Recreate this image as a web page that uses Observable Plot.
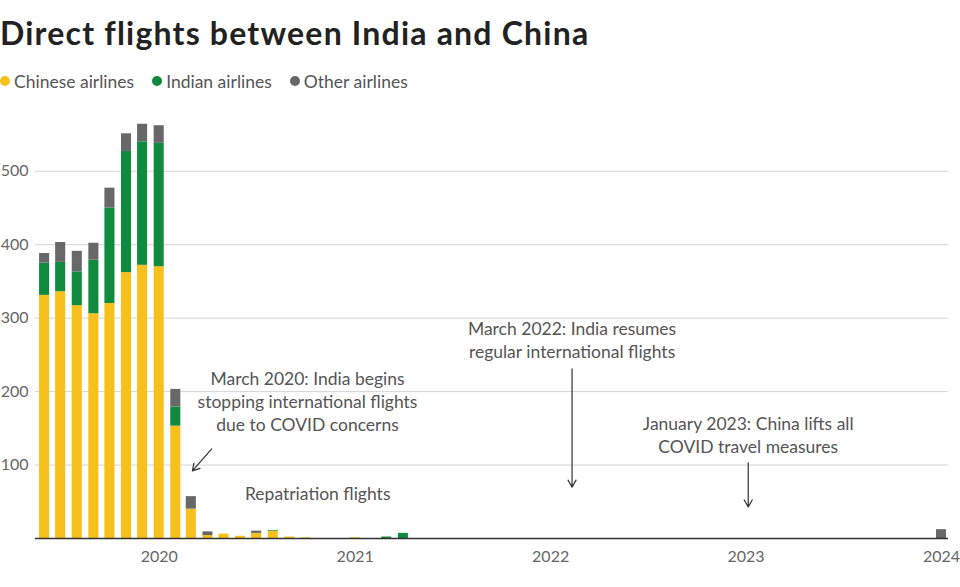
<!DOCTYPE html>
<html>
<head>
<meta charset="utf-8">
<script src="https://cdn.jsdelivr.net/npm/d3@7"></script>
<script src="https://cdn.jsdelivr.net/npm/@observablehq/plot@0.6"></script>
<style>
  body { margin: 0; background: #fff; font-family: Lato, "Noto Sans", sans-serif; }
  #wrap { width: 960px; height: 587px; position: relative; overflow: hidden; }
  h1 { margin: 0; padding: 14px 0 0 0; font-size: 32px; font-weight: 700; color: #222; letter-spacing: 1.2px; line-height: 38px; }
  .legend { display: flex; gap: 18px; margin-top: 17px; font-size: 17.5px; color: #555; height: 24px; align-items: center; }
  .legend span { display: inline-flex; align-items: center; }
  .legend i { display: inline-block; width: 10px; height: 10px; border-radius: 50%; margin-right: 4px; }
  #chart { position: absolute; top: 100px; left: 0; }
</style>
</head>
<body>
<div id="wrap">
  <h1>Direct flights between India and China</h1>
  <div class="legend" id="legend"></div>
  <div id="chart"></div>
</div>
<script>
const months = ["2019-06","2019-07","2019-08","2019-09","2019-10","2019-11","2019-12","2020-01","2020-02","2020-03","2020-04","2020-05","2020-06","2020-07","2020-08","2020-09","2020-10","2021-01","2021-03","2021-04","2024-01"];
const chinese = [331,336,317,306,320,362,372,370,153,40,4,6,3,7,10,2,1,1,0,0,0];
const indian  = [44,40,46,73,130,165,168,168,26,0,0,0,0,0,1,0,0,0,2,7,0];
const other   = [13,27,28,23,27,24,24,24,24,17,5,0,0,3,0,0,0,0,0,0,12];
const seriesNames = ["Chinese airlines", "Indian airlines", "Other airlines"];
const seriesColors = ["#F7C01D", "#108A3F", "#686868"];
const yTicks = [100, 200, 300, 400, 500];
const xTickYears = [2020, 2021, 2022, 2023, 2024];

const annotations = [
  {date: "2020-10-04", value: 188, text: "March 2020: India begins\nstopping international flights\ndue to COVID concerns"},
  {date: "2020-10-23", value: 63, text: "Repatriation flights"},
  {date: "2022-02-10", value: 272, text: "March 2022: India resumes\nregular international flights"},
  {date: "2023-01-05", value: 142, text: "January 2023: China lifts all\nCOVID travel measures"}
];
const arrows = [
  {d1: "2020-04-08", v1: 122, d2: "2020-03-03", v2: 92},
  {d1: "2022-02-10", v1: 231, d2: "2022-02-10", v2: 70},
  {d1: "2023-01-05", v1: 103, d2: "2023-01-05", v2: 43}
];

// legend
const legend = document.getElementById("legend");
seriesNames.forEach((n, i) => {
  const s = document.createElement("span");
  s.innerHTML = `<i style="background:${seriesColors[i]}"></i>${n}`;
  legend.appendChild(s);
});

// stacked rows
const parse = d3.utcParse("%Y-%m");
const rows = [];
months.forEach((m, i) => {
  const date = parse(m);
  let base = 0;
  [chinese[i], indian[i], other[i]].forEach((v, k) => {
    if (v > 0) rows.push({date, series: seriesNames[k], y1: base, y2: base + v});
    base += v;
  });
});

const pd = d3.utcParse("%Y-%m-%d");
const ann = annotations.map(a => ({...a, date: pd(a.date)}));
const arr = arrows.map(a => ({...a, d1: pd(a.d1), d2: pd(a.d2)}));

const chart = Plot.plot({
  width: 960,
  height: 487,
  marginLeft: 35,
  marginRight: 12,
  marginTop: 12,
  marginBottom: 49,
  style: {fontFamily: "Lato, 'Noto Sans', sans-serif", background: "transparent"},
  x: {type: "utc", domain: [pd("2019-05-15"), pd("2024-01-14")], ticks: xTickYears.map(y => new Date(Date.UTC(y, 0, 1))), tickFormat: d3.utcFormat("%Y"), tickSize: 0, tickPadding: 12, label: null},
  y: {domain: [0, 580], ticks: yTicks, tickSize: 0, tickPadding: 7, label: null},
  color: {domain: seriesNames, range: seriesColors},
  marks: [
    Plot.ruleY(yTicks, {stroke: "#d4d4d4", strokeWidth: 1}),
    Plot.rectY(rows, {
      x1: d => d3.utcDay.offset(d.date, -15),
      x2: d => d3.utcDay.offset(d.date, 15),
      y1: "y1", y2: "y2", fill: "series", insetLeft: 3, insetRight: 3
    }),
    Plot.ruleY([0], {stroke: "#333", strokeWidth: 1.5}),
    Plot.text(ann, {x: "date", y: "value", text: "text", fontSize: 17.5, fill: "#555", lineHeight: 1.32, textAnchor: "middle"}),
    Plot.arrow(arr, {x1: "d1", y1: "v1", x2: "d2", y2: "v2", stroke: "#333", strokeWidth: 1.2, headLength: 10})
  ]
});
chart.querySelectorAll('g[aria-label$="tick label"]').forEach(g => { g.setAttribute("fill", "#666"); g.setAttribute("font-size", "16"); });
document.getElementById("chart").appendChild(chart);
</script>
</body>
</html>
